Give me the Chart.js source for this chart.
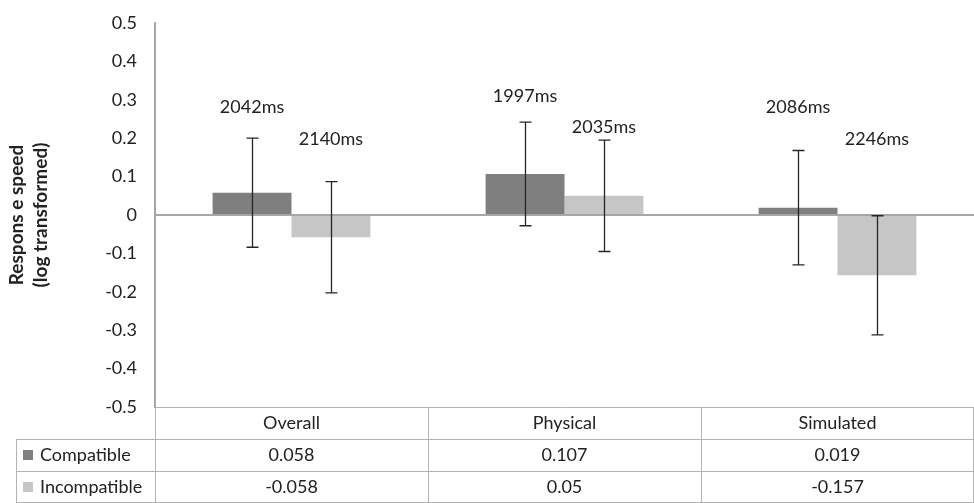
<!DOCTYPE html>
<html>
<head>
<meta charset="utf-8">
<script src="https://cdn.jsdelivr.net/npm/chart.js@4.4.0/dist/chart.umd.min.js"></script>
<style>
  html, body { margin: 0; padding: 0; background: #fff; }
  #wrap { width: 974px; height: 503px; }
</style>
</head>
<body>
<div id="wrap"><canvas id="chart" width="974" height="503"></canvas></div>
<script>
// data
const categories = ['Overall', 'Physical', 'Simulated'];
const seriesNames = ['Compatible', 'Incompatible'];
const compatible = [0.058, 0.107, 0.019];
const incompatible = [-0.058, 0.05, -0.157];
const compatibleErr = [0.142, 0.135, 0.149];
const incompatibleErr = [0.145, 0.145, 0.155];
const compatibleMs = ['2042ms', '1997ms', '2086ms'];
const incompatibleMs = ['2140ms', '2035ms', '2246ms'];
const tableText = [
  ['0.058', '0.107', '0.019'],
  ['-0.058', '0.05', '-0.157']
];

// where the hand placed ms labels sit (axis units)
const msLabelAt = [[0.281, 0.198], [0.31, 0.229], [0.281, 0.198]];

const FONT = 'Lato, "Open Sans", sans-serif';
const colors = ['#7f7f7f', '#c6c6c6'];
const lineGray = '#a6a6a6';

const errorBars = {
  id: 'errorBars',
  afterDatasetsDraw(chart) {
    const ctx = chart.ctx;
    const y = chart.scales.y;
    const errs = [compatibleErr, incompatibleErr];
    ctx.save();
    ctx.strokeStyle = '#262626';
    ctx.lineWidth = 1.3;
    chart.data.datasets.forEach((ds, di) => {
      const meta = chart.getDatasetMeta(di);
      meta.data.forEach((bar, i) => {
        const v = ds.data[i];
        const top = y.getPixelForValue(v + errs[di][i]);
        const bot = y.getPixelForValue(v - errs[di][i]);
        const x = Math.round(bar.x) + 0.5;
        ctx.beginPath();
        ctx.moveTo(x, top); ctx.lineTo(x, bot);
        ctx.moveTo(x - 6, top); ctx.lineTo(x + 6, top);
        ctx.moveTo(x - 6, bot); ctx.lineTo(x + 6, bot);
        ctx.stroke();
      });
    });
    // ms labels
    const labels = [compatibleMs, incompatibleMs];
    ctx.fillStyle = '#222';
    ctx.font = '18px ' + FONT;
    ctx.textAlign = 'center';
    ctx.textBaseline = 'middle';
    chart.data.datasets.forEach((ds, di) => {
      chart.getDatasetMeta(di).data.forEach((bar, i) => {
        ctx.fillText(labels[di][i], bar.x, y.getPixelForValue(msLabelAt[i][di]));
      });
    });
    ctx.restore();
  }
};

const dataTable = {
  id: 'dataTable',
  afterDraw(chart) {
    const ctx = chart.ctx;
    const area = chart.chartArea;
    const left = area.left, right = area.right;
    const colW = (right - left) / categories.length;
    const rowH = 32;
    const top = area.bottom;
    const tableLeft = 16;
    ctx.save();
    ctx.strokeStyle = '#b4b4b4';
    ctx.lineWidth = 1;
    ctx.beginPath();
    // horizontal lines
    ctx.moveTo(left, top + 0.5); ctx.lineTo(right, top + 0.5);
    for (let r = 1; r <= 3; r++) {
      const yy = Math.round(top + r * rowH - (r === 3 ? 1 : 0)) + 0.5;
      ctx.moveTo(tableLeft, yy); ctx.lineTo(right, yy);
    }
    // vertical lines
    for (let c = 0; c <= categories.length; c++) {
      const xx = Math.round(left + c * colW) - (c === categories.length ? 1 : 0) + 0.5;
      ctx.moveTo(xx, top); ctx.lineTo(xx, top + 3 * rowH);
    }
    ctx.moveTo(tableLeft + 0.5, top + rowH); ctx.lineTo(tableLeft + 0.5, top + 3 * rowH);
    ctx.stroke();

    ctx.fillStyle = '#222';
    ctx.font = '18px ' + FONT;
    ctx.textAlign = 'center';
    ctx.textBaseline = 'middle';
    categories.forEach((cat, c) => {
      const cx = left + (c + 0.5) * colW;
      ctx.fillText(cat, cx, top + rowH / 2);
      tableText.forEach((row, r) => {
        ctx.fillText(row[c], cx, top + (r + 1.5) * rowH);
      });
    });
    ctx.textAlign = 'left';
    seriesNames.forEach((name, r) => {
      const cy = top + (r + 1.5) * rowH;
      ctx.fillStyle = colors[r];
      ctx.fillRect(23, cy - 5, 10, 10);
      ctx.fillStyle = '#222';
      ctx.fillText(name, 40, cy);
    });
    ctx.restore();
  }
};

new Chart(document.getElementById('chart'), {
  type: 'bar',
  data: {
    labels: categories,
    datasets: [
      { label: seriesNames[0], data: compatible, backgroundColor: colors[0] },
      { label: seriesNames[1], data: incompatible, backgroundColor: colors[1] }
    ]
  },
  options: {
    responsive: false,
    animation: false,
    layout: { padding: { top: 23, bottom: 96, left: 5, right: 0 } },
    datasets: { bar: { barPercentage: 1, categoryPercentage: 0.578 } },
    plugins: { legend: { display: false }, tooltip: { enabled: false } },
    scales: {
      x: { display: false },
      y: {
        min: -0.5,
        max: 0.5,
        afterFit(scale) {
          scale.width = 150;
          scale.paddingTop = 0;
          scale.paddingBottom = 0;
        },
        ticks: {
          stepSize: 0.1,
          padding: 18,
          color: '#222',
          font: { family: FONT, size: 18 },
          callback: v => (Math.round(v * 10) / 10).toString()
        },
        grid: {
          drawTicks: false,
          lineWidth: 2,
          color: c => (Math.abs(c.tick.value) < 1e-9 ? lineGray : 'rgba(0,0,0,0)')
        },
        border: { color: lineGray, width: 2 },
        title: {
          display: true,
          text: ['Respons e speed', '(log transformed)'],
          color: '#222',
          font: { family: FONT, size: 19, weight: 'bold', lineHeight: 1.25 },
          padding: { top: 0, bottom: 0 }
        }
      }
    }
  },
  plugins: [errorBars, dataTable]
});
</script>
</body>
</html>
